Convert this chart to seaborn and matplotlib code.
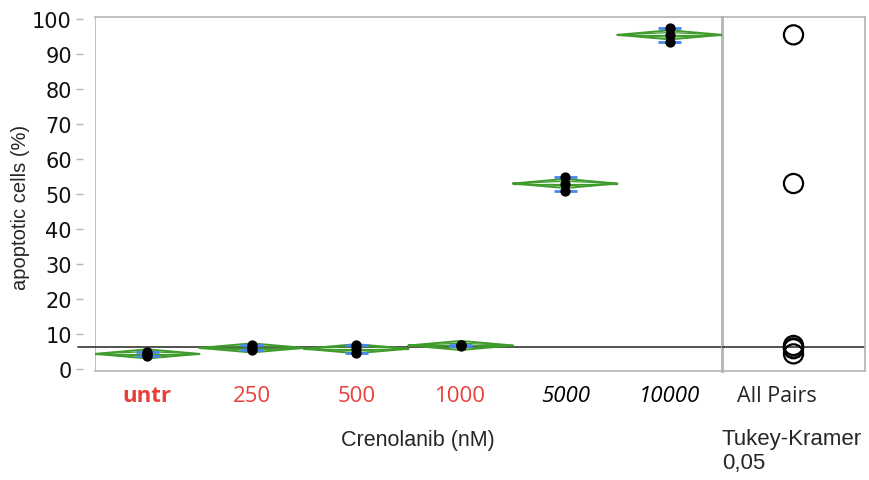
import numpy as np
import pandas as pd
import matplotlib
matplotlib.use("Agg")
import matplotlib.pyplot as plt
import seaborn as sns

# ---- data ----
categories = ["untr", "250", "500", "1000", "5000", "10000"]
untr = [3.7, 4.3, 4.9]
c250 = [5.3, 6.0, 6.7]
c500 = [4.6, 5.8, 6.9]
c1000 = [6.6, 6.7, 6.8]
c5000 = [51.0, 53.0, 55.0]
c10000 = [93.5, 95.5, 97.5]
ci_half = [1.3, 1.3, 1.3, 1.3, 1.3, 1.3]   # half-height of the means diamonds
ref_line = 6.3
yticks = [0, 10, 20, 30, 40, 50, 60, 70, 80, 90, 100]
xlabel = "Crenolanib (nM)"
ylabel = "apoptotic cells (%)"

groups = [untr, c250, c500, c1000, c5000, c10000]
df = pd.DataFrame({
    "group": np.repeat(categories, [len(g) for g in groups]),
    "value": np.concatenate(groups),
})
means = df.groupby("group", sort=False)["value"].mean().reindex(categories)
sds = df.groupby("group", sort=False)["value"].std().reindex(categories)

sns.set_style("white")
plt.rcParams["font.family"] = ["DejaVu Sans"]

GREEN = "#3f9b2c"
BLUE = "#4a86e8"
RED = "#e8413c"
FRAME = "#b4b4b4"

fig = plt.figure(figsize=(8.7, 4.81), dpi=100)
ax = fig.add_axes([95 / 870, 1 - 372 / 481, (722 - 95) / 870, (372 - 18) / 481])
axr = fig.add_axes([722 / 870, 1 - 372 / 481, (865 - 722) / 870, (372 - 18) / 481], sharey=ax)
axr.patch.set_alpha(0)

ylim = (-0.6, 100.6)

# means diamonds
for i, cat in enumerate(categories):
    m = means[cat]
    h = ci_half[i]
    w = 0.5
    ax.plot([i - w, i, i + w, i, i - w], [m, m + h, m, m - h, m], color=GREEN, lw=1.4, zorder=3)
    ax.plot([i - w, i, i + w, i, i - w], [m, m + 0.5 * h, m, m - 0.5 * h, m], color=GREEN, lw=0.9, zorder=3)
    ax.plot([i - w, i + w], [m, m], color=GREEN, lw=0.9, zorder=3)
    s = sds[cat]
    for yy in (m - s, m + s):
        ax.plot([i - 0.11, i + 0.11], [yy, yy], color=BLUE, lw=2.0, zorder=4, solid_capstyle="butt")

sns.stripplot(data=df, x="group", y="value", order=categories, jitter=False,
              color="black", size=7.4, linewidth=0, ax=ax, zorder=6)

ax.axhline(ref_line, xmin=-0.027, xmax=1, color="#333333", lw=1.2, zorder=2, clip_on=False)
ax.axvline(-0.5, color=FRAME, lw=1.2, zorder=1)

ax.spines["left"].set_position(("outward", 12 * 0.72))
ax.spines["left"].set_visible(False)
for sp in ("top", "bottom"):
    ax.spines[sp].set_color(FRAME); ax.spines[sp].set_linewidth(1.2)
ax.spines["right"].set_color(FRAME); ax.spines["right"].set_linewidth(2.0)

ax.set_xlim(-0.5, 5.5)
ax.set_ylim(*ylim)
ax.set_yticks(yticks)
ax.set_yticklabels([str(t) for t in yticks])
ax.set_xticks(range(len(categories)))
ax.set_xticks(np.arange(0.5, len(categories) - 1, 1.0), minor=True)
ax.tick_params(axis="x", which="major", length=0, pad=10)
ax.tick_params(axis="x", which="minor", length=8, width=1, color=FRAME, direction="out")
ax.tick_params(axis="y", which="major", length=5, width=1, color=FRAME, direction="out", pad=3,
               left=True, labelsize=15, labelcolor="#111111")
ax.set_xlabel(xlabel, fontsize=15.5, family=["Liberation Sans"], labelpad=16)
ax.xaxis.set_label_coords(0.515, -0.165)
ax.set_ylabel(ylabel, fontsize=14.5, family=["Liberation Sans"], labelpad=8)
ax.yaxis.set_label_coords(-0.104, 0.465)

labels = ax.set_xticklabels(categories, fontsize=16, family=["Open Sans"])
for lab, cat in zip(labels, categories):
    if cat == "untr":
        lab.set_color(RED); lab.set_fontweight("bold")
    elif cat in ("250", "500", "1000"):
        lab.set_color(RED)
    else:
        lab.set_color("black"); lab.set_fontstyle("italic")

# comparison circles panel
circ = pd.DataFrame({"x": [0.0] * len(categories), "y": means.values})
sns.scatterplot(data=circ, x="x", y="y", ax=axr, marker="o", s=190,
                facecolor="none", edgecolor="black", linewidth=1.6, zorder=3, legend=False)
axr.axhline(ref_line, color="#333333", lw=1.2, zorder=2)
axr.set_xlim(-0.5, 0.5)
axr.set_ylim(*ylim)
axr.set_xticks([])
axr.tick_params(axis="y", left=False, labelleft=False)
axr.set_xlabel("")
axr.set_ylabel("")
for sp in ("top", "bottom", "right"):
    axr.spines[sp].set_color(FRAME); axr.spines[sp].set_linewidth(1.2)
axr.spines["left"].set_visible(False)

fig.text(737 / 870, 1 - 396 / 481, "All Pairs", fontsize=15.5, family=["Open Sans"], va="center", ha="left")
fig.text(722 / 870, 1 - 440 / 481, "Tukey-Kramer", fontsize=16, family=["Liberation Sans"], va="center", ha="left")
fig.text(722 / 870, 1 - 464 / 481, "0,05", fontsize=16, family=["Liberation Sans"], va="center", ha="left")

fig.savefig("out.png", dpi=100)
